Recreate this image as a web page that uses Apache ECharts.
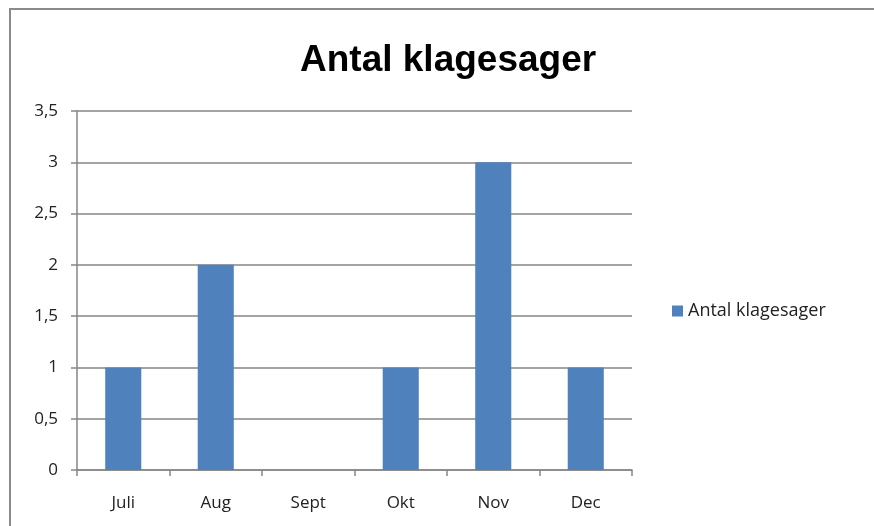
<!DOCTYPE html>
<html>
<head>
<meta charset="utf-8">
<script src="https://cdn.jsdelivr.net/npm/echarts@6/dist/echarts.min.js"></script>
<style>
  body { margin: 0; background: #fff; }
  #frame { position: absolute; left: 9px; top: 8px; width: 900px; height: 600px; border: 2px solid #8a8a8a; box-sizing: border-box; }
  #chart { position: absolute; left: 0; top: 0; width: 874px; height: 526px; }
</style>
</head>
<body>
<div id="frame"></div>
<div id="chart"></div>
<script>
const months = ['Juli', 'Aug', 'Sept', 'Okt', 'Nov', 'Dec'];
const klagesager = [1, 2, 0, 1, 3, 1];
const seriesName = 'Antal klagesager';

const chart = echarts.init(document.getElementById('chart'));
const labelStyle = { color: '#222', fontSize: 17, fontFamily: 'Open Sans, Liberation Sans, sans-serif' };

chart.setOption({
  animation: false,
  title: {
    text: 'Antal klagesager',
    left: 295,
    top: 37,
    textStyle: { fontSize: 37, fontWeight: 'bold', color: '#000', fontFamily: 'Liberation Sans, Arial, sans-serif' }
  },
  legend: {
    left: 667,
    top: 297,
    icon: 'rect',
    itemWidth: 11,
    itemHeight: 11,
    itemGap: 6,
    textStyle: Object.assign({}, labelStyle, { fontSize: 18 }),
    data: [seriesName]
  },
  grid: { left: 77, right: 242, top: 111, bottom: 56 },
  xAxis: {
    type: 'category',
    data: months,
    axisLine: { lineStyle: { color: '#868686', width: 1.5 } },
    axisTick: { show: true, length: 6, lineStyle: { color: '#868686', width: 1.5 } },
    axisLabel: Object.assign({ margin: 25 }, labelStyle)
  },
  yAxis: {
    type: 'value',
    min: 0,
    max: 3.5,
    interval: 0.5,
    axisLine: { show: true, lineStyle: { color: '#868686', width: 1.5 } },
    axisTick: { show: true, length: 6, lineStyle: { color: '#868686', width: 1.5 } },
    splitLine: { lineStyle: { color: '#868686', width: 1.5 } },
    axisLabel: Object.assign({
      margin: 19,
      formatter: v => String(v).replace('.', ',')
    }, labelStyle)
  },
  series: [{
    name: seriesName,
    type: 'bar',
    data: klagesager,
    barWidth: '39%',
    itemStyle: { color: '#4f81bd' }
  }]
});
</script>
</body>
</html>
